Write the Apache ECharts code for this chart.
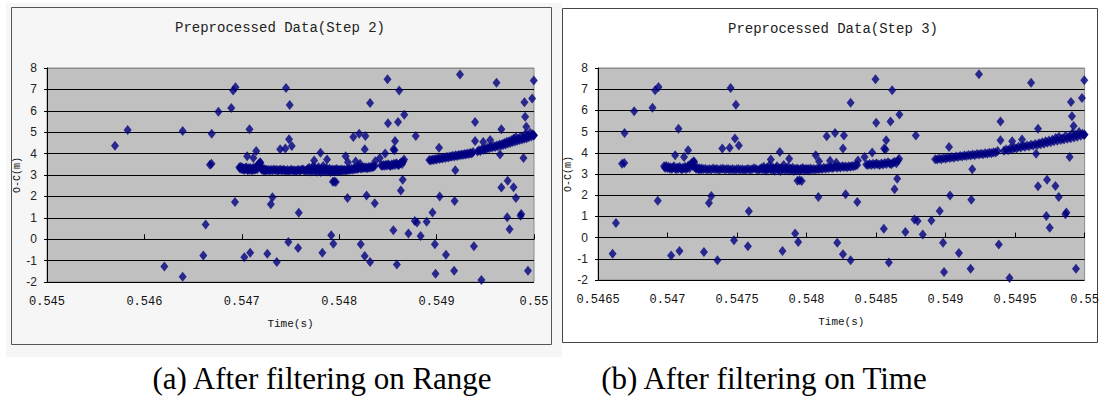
<!DOCTYPE html>
<html>
<head>
<meta charset="utf-8">
<script src="https://cdn.jsdelivr.net/npm/echarts@6/dist/echarts.min.js"></script>
<style>
  html, body { margin: 0; padding: 0; background: #fff; }
  #chart { width: 1102px; height: 396px; }
</style>
</head>
<body>
<div id="chart"></div>
<script>
// points only seen in step 2 (before 0.5465 s)
const earlyPoints = [
  [0.545698, 4.37], [0.545828, 5.10], [0.546393, 5.06], [0.546205, -1.28], [0.546393, -1.75]
];

// scattered outliers, present in both steps
const outlierPoints = [
  [0.546605, -0.76], [0.546629, 0.69], [0.546689, 3.52], [0.546673, 3.48], [0.546691, 4.93],
  [0.546760, 5.96], [0.546892, 6.13], [0.546911, 6.95], [0.546935, 7.10], [0.546930, 1.74],
  [0.547026, -0.84], [0.547086, -0.63], [0.547079, 5.14], [0.547055, 3.88], [0.547119, 3.80],
  [0.547148, 4.12], [0.547189, 3.60], [0.547262, -0.68], [0.547298, 1.63], [0.547315, 1.96],
  [0.547359, -1.07], [0.547394, 4.20], [0.547447, 4.24], [0.547454, 7.06], [0.547485, 4.67],
  [0.547492, 6.27], [0.547513, 4.35], [0.547478, -0.13], [0.547578, -0.41], [0.547585, 1.24],
  [0.548496, 7.47], [0.548616, 6.95], [0.548317, 6.36], [0.548668, 5.81], [0.548501, 5.42],
  [0.548604, 5.48], [0.548145, 4.78], [0.548205, 4.93], [0.548269, 4.82], [0.548786, 4.82],
  [0.548262, 4.20], [0.548573, 4.59], [0.548558, 4.20], [0.548568, 4.16], [0.547808, 4.04],
  [0.547743, 3.68], [0.547875, 3.72], [0.548066, 3.88], [0.548090, 3.60], [0.548169, 3.63],
  [0.548214, 3.53], [0.548370, 3.64], [0.548417, 3.80], [0.548472, 4.01], [0.547935, 2.68],
  [0.547950, 2.70], [0.547965, 2.67], [0.548652, 2.78], [0.548633, 2.28], [0.548085, 1.92],
  [0.548281, 2.04], [0.548365, 1.68], [0.548776, 0.85], [0.548799, 0.78], [0.548556, 0.42],
  [0.548711, 0.27], [0.548836, 0.15], [0.547918, 0.19], [0.547940, -0.21], [0.547827, -0.63],
  [0.548221, -0.24], [0.548262, -0.79], [0.548317, -1.07], [0.548592, -1.18],
  [0.549240, 7.70], [0.549615, 7.31], [0.549998, 7.42], [0.549981, 6.58], [0.549902, 6.40],
  [0.549909, 5.72], [0.549395, 5.48], [0.549665, 5.14], [0.549921, 5.26], [0.549395, 4.59],
  [0.549479, 4.54], [0.549550, 4.63], [0.549025, 4.27], [0.549651, 3.96], [0.549892, 3.80],
  [0.549192, 3.22], [0.549730, 2.73], [0.549665, 2.42], [0.549790, 2.43], [0.549814, 1.92],
  [0.549032, 1.99], [0.549185, 1.79], [0.548958, 1.25], [0.548898, 0.81], [0.549725, 1.02],
  [0.549869, 1.18], [0.549862, 1.10], [0.549749, 0.47], [0.548982, -0.24], [0.549096, -0.73],
  [0.549383, -0.33], [0.548989, -1.62], [0.549180, -1.47], [0.549460, -1.91], [0.549938, -1.47]
];

// dense residual tracks
const flatTrack = [
  [0.546975, 3.36], [0.546982, 3.30], [0.546990, 3.38], [0.546998, 3.28], [0.547006, 3.34],
  [0.547014, 3.26], [0.547022, 3.32], [0.547030, 3.24], [0.547038, 3.30], [0.547046, 3.36],
  [0.547054, 3.27], [0.547062, 3.22], [0.547070, 3.31], [0.547078, 3.25], [0.547086, 3.33],
  [0.547094, 3.28], [0.547102, 3.21], [0.547110, 3.30], [0.547118, 3.26], [0.547126, 3.34],
  [0.547134, 3.24], [0.547142, 3.29], [0.547150, 3.40], [0.547158, 3.27], [0.547166, 3.45],
  [0.547174, 3.52], [0.547182, 3.38], [0.547190, 3.56], [0.547198, 3.31], [0.547206, 3.25],
  [0.547214, 3.30], [0.547222, 3.22], [0.547230, 3.27], [0.547238, 3.20], [0.547246, 3.26],
  [0.547258, 3.22], [0.547272, 3.25], [0.547286, 3.20], [0.547300, 3.24], [0.547314, 3.21],
  [0.547328, 3.26], [0.547342, 3.22], [0.547356, 3.24], [0.547370, 3.20], [0.547384, 3.23],
  [0.547398, 3.25], [0.547412, 3.21], [0.547426, 3.24], [0.547440, 3.22], [0.547454, 3.20],
  [0.547468, 3.23], [0.547482, 3.19], [0.547496, 3.22], [0.547510, 3.24], [0.547524, 3.20],
  [0.547538, 3.22], [0.547552, 3.19], [0.547566, 3.21], [0.547580, 3.24], [0.547594, 3.20],
  [0.547608, 3.22], [0.547622, 3.27], [0.547636, 3.23], [0.547650, 3.19], [0.547664, 3.22],
  [0.547676, 3.28], [0.547684, 3.20], [0.547692, 3.34], [0.547700, 3.24], [0.547708, 3.16],
  [0.547716, 3.30], [0.547724, 3.22], [0.547732, 3.40], [0.547740, 3.26], [0.547748, 3.18],
  [0.547756, 3.32], [0.547764, 3.24], [0.547772, 3.15], [0.547780, 3.28], [0.547788, 3.36],
  [0.547796, 3.20], [0.547804, 3.26], [0.547812, 3.14], [0.547820, 3.30], [0.547828, 3.22],
  [0.547836, 3.42], [0.547844, 3.18], [0.547852, 3.27], [0.547860, 3.21], [0.547868, 3.33],
  [0.547876, 3.16], [0.547884, 3.25], [0.547892, 3.20], [0.547900, 3.29], [0.547908, 3.14],
  [0.547916, 3.23], [0.547924, 3.18], [0.547932, 3.26], [0.547940, 3.21], [0.547948, 3.17],
  [0.547956, 3.24], [0.547964, 3.19], [0.547972, 3.28], [0.547980, 3.22], [0.547988, 3.18],
  [0.547996, 3.25], [0.548004, 3.20], [0.548012, 3.23], [0.548020, 3.17], [0.548028, 3.26],
  [0.548040, 3.21], [0.548052, 3.24], [0.548064, 3.20], [0.548076, 3.25], [0.548088, 3.22],
  [0.548100, 3.27], [0.548112, 3.23], [0.548124, 3.29], [0.548136, 3.25], [0.548148, 3.30],
  [0.548160, 3.27], [0.548172, 3.33], [0.548184, 3.28], [0.548196, 3.31], [0.548208, 3.35],
  [0.548220, 3.30], [0.548232, 3.34], [0.548244, 3.31], [0.548256, 3.36], [0.548268, 3.33],
  [0.548280, 3.35], [0.548292, 3.32], [0.548304, 3.37], [0.548316, 3.34], [0.548328, 3.38],
  [0.548340, 3.36], [0.548352, 3.40], [0.548364, 3.42]
];

const stepTrack = [
  [0.548430, 3.45], [0.548442, 3.42], [0.548454, 3.47], [0.548466, 3.43], [0.548478, 3.48],
  [0.548490, 3.44], [0.548502, 3.50], [0.548514, 3.46], [0.548526, 3.42], [0.548538, 3.49],
  [0.548550, 3.45], [0.548562, 3.52], [0.548574, 3.47], [0.548586, 3.55], [0.548598, 3.50],
  [0.548610, 3.46], [0.548622, 3.53], [0.548634, 3.58], [0.548646, 3.51], [0.548658, 3.63],
  [0.548666, 3.72]
];

const risingTrack = [
  [0.548925, 3.70], [0.548940, 3.68], [0.548955, 3.73], [0.548970, 3.70], [0.548985, 3.75],
  [0.549000, 3.72], [0.549015, 3.78], [0.549030, 3.75], [0.549045, 3.80], [0.549060, 3.77],
  [0.549075, 3.82], [0.549090, 3.80], [0.549105, 3.85], [0.549120, 3.82], [0.549135, 3.87],
  [0.549150, 3.85], [0.549165, 3.90], [0.549180, 3.87], [0.549195, 3.92], [0.549210, 3.89],
  [0.549225, 3.94], [0.549240, 3.92], [0.549255, 3.96], [0.549270, 3.93], [0.549285, 3.98],
  [0.549300, 3.96], [0.549315, 4.00], [0.549330, 3.98], [0.549345, 4.03], [0.549360, 4.01],
  [0.549375, 4.08],
  [0.549420, 4.10], [0.549435, 4.16], [0.549450, 4.12], [0.549465, 4.20], [0.549480, 4.17],
  [0.549495, 4.24], [0.549510, 4.20], [0.549525, 4.28], [0.549540, 4.25], [0.549555, 4.32],
  [0.549570, 4.28], [0.549585, 4.35], [0.549600, 4.31], [0.549615, 4.38], [0.549630, 4.34],
  [0.549645, 4.42], [0.549660, 4.37], [0.549672, 4.45], [0.549684, 4.40], [0.549696, 4.50],
  [0.549708, 4.43], [0.549720, 4.55], [0.549732, 4.47], [0.549744, 4.58], [0.549756, 4.50],
  [0.549768, 4.62], [0.549780, 4.54], [0.549792, 4.70], [0.549804, 4.57], [0.549816, 4.76],
  [0.549828, 4.60], [0.549840, 4.68], [0.549852, 4.63], [0.549864, 4.80], [0.549876, 4.66],
  [0.549888, 4.74], [0.549900, 4.69], [0.549912, 4.92], [0.549924, 4.72], [0.549936, 4.85],
  [0.549948, 4.76], [0.549960, 4.98], [0.549972, 4.80], [0.549984, 4.90], [0.549996, 4.84],
  [0.550000, 4.86]
];

const panelTitles = ["Preprocessed Data(Step 2)", "Preprocessed Data(Step 3)"];
const captions = ["(a) After filtering on Range", "(b) After filtering on Time"];
const ocTicks = { min: -2, max: 8, step: 1 };
const timeTicksA = { min: 0.545, max: 0.55, step: 0.001 };
const timeTicksB = { min: 0.5465, max: 0.55, step: 0.0005 };

const stepTwo = earlyPoints.concat(outlierPoints, flatTrack, stepTrack, risingTrack);
const stepThree = outlierPoints.concat(flatTrack, stepTrack, risingTrack);

const mono = "Liberation Mono";
const navy = "#000080";
// black grid lines, the top one grey like the frame
const gridColors = ["#000", "#000", "#000", "#000", "#000", "#000", "#000", "#000", "#000", "#000", "#8c8c8c"];

function timeLabel(v) {
  return String(+v.toFixed(4));
}

function makeX(idx, ticks) {
  return {
    type: "value",
    gridIndex: idx,
    min: ticks.min,
    max: ticks.max,
    interval: ticks.step,
    name: "Time(s)",
    nameLocation: "middle",
    nameGap: 36,
    nameTextStyle: { fontFamily: mono, fontSize: 11, color: "#111" },
    axisLine: { lineStyle: { color: "#000", width: 1 } },
    axisTick: { inside: true, length: 5, lineStyle: { color: "#000" } },
    axisLabel: { margin: 14, fontFamily: mono, fontSize: 12, color: "#111", formatter: timeLabel },
    splitLine: { show: false }
  };
}

function makeY(idx) {
  return {
    type: "value",
    gridIndex: idx,
    min: ocTicks.min,
    max: ocTicks.max,
    interval: ocTicks.step,
    name: "O-C(m)",
    nameLocation: "middle",
    nameRotate: 90,
    nameGap: 20,
    nameTextStyle: { fontFamily: mono, fontSize: 10, color: "#111" },
    axisLine: { show: true, lineStyle: { color: "#000", width: 1 } },
    axisTick: { show: true, length: 3, lineStyle: { color: "#000" } },
    axisLabel: { margin: 10, fontFamily: "Liberation Sans", fontSize: 12, color: "#222" },
    splitLine: { show: true, lineStyle: { color: gridColors, width: 1 } }
  };
}

const chart = echarts.init(document.getElementById("chart"), null, { renderer: "svg" });

chart.setOption({
  animation: false,
  graphic: [
    { type: "rect", z: -10, shape: { x: 6, y: 3, width: 556, height: 354 }, style: { fill: "#f6f6f6" } },
    { type: "rect", z: -9, shape: { x: 11.5, y: 7.5, width: 540, height: 337 }, style: { fill: "#f6f6f6", stroke: "#555", lineWidth: 1 } },
    { type: "rect", z: -9, shape: { x: 562.5, y: 8.5, width: 535, height: 334 }, style: { fill: "#fff", stroke: "#444", lineWidth: 1 } },
    { type: "text", x: 280, y: 28, style: { text: panelTitles[0], font: "14px Liberation Mono", fill: "#222", textAlign: "center", textVerticalAlign: "middle" } },
    { type: "text", x: 833, y: 29, style: { text: panelTitles[1], font: "14px Liberation Mono", fill: "#222", textAlign: "center", textVerticalAlign: "middle" } },
    { type: "text", x: 322, y: 378, style: { text: captions[0], font: "31px Liberation Serif", fill: "#000", textAlign: "center", textVerticalAlign: "middle" } },
    { type: "text", x: 764, y: 378, style: { text: captions[1], font: "31px Liberation Serif", fill: "#000", textAlign: "center", textVerticalAlign: "middle" } }
  ],
  grid: [
    { left: 47, top: 68, width: 487, height: 214, show: true, backgroundColor: "#c0c0c0", borderColor: "#8c8c8c", borderWidth: 1 },
    { left: 598, top: 68, width: 488, height: 212, show: true, backgroundColor: "#c0c0c0", borderColor: "#8c8c8c", borderWidth: 1 }
  ],
  xAxis: [makeX(0, timeTicksA), makeX(1, timeTicksB)],
  yAxis: [makeY(0), makeY(1)],
  series: [
    {
      type: "scatter", xAxisIndex: 0, yAxisIndex: 0, data: stepTwo,
      symbol: "diamond", symbolSize: [8, 10], clip: false,
      itemStyle: { color: navy }
    },
    {
      type: "scatter", xAxisIndex: 1, yAxisIndex: 1, data: stepThree,
      symbol: "diamond", symbolSize: [8, 10], clip: false,
      itemStyle: { color: navy }
    }
  ]
});
</script>
</body>
</html>
